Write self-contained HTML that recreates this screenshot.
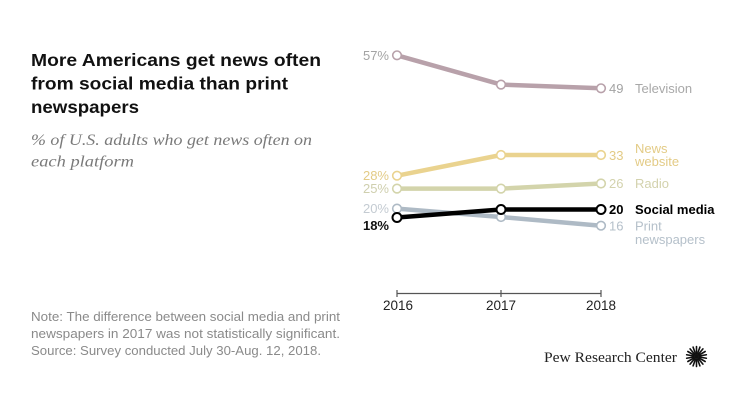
<!DOCTYPE html>
<html><head><meta charset="utf-8"><style>
html,body{margin:0;padding:0;background:#fff;}
svg{display:block;}
text{font-family:"Liberation Sans",sans-serif;}
</style></head><body>
<svg width="730" height="411" viewBox="0 0 730 411" xmlns="http://www.w3.org/2000/svg">
<rect width="730" height="411" fill="#fff"/>
<!-- Title -->
<g font-weight="bold" font-size="17.5" fill="#111">
<text x="31" y="66" textLength="290" lengthAdjust="spacingAndGlyphs">More Americans get news often</text>
<text x="31" y="89.5" textLength="257" lengthAdjust="spacingAndGlyphs">from social media than print</text>
<text x="31" y="113" textLength="108" lengthAdjust="spacingAndGlyphs">newspapers</text>
</g>
<g font-family="Liberation Serif" font-style="italic" font-size="15.5" fill="#7a7a7a">
<text x="31" y="145" style="font-family:'Liberation Serif',serif" textLength="281" lengthAdjust="spacingAndGlyphs">% of U.S. adults who get news often on</text>
<text x="31" y="166.5" style="font-family:'Liberation Serif',serif" textLength="103" lengthAdjust="spacingAndGlyphs">each platform</text>
</g>
<!-- Note -->
<g font-size="12.5" fill="#8a8a8a">
<text x="31" y="321" textLength="309" lengthAdjust="spacingAndGlyphs">Note: The difference between social media and print</text>
<text x="31" y="338" textLength="309" lengthAdjust="spacingAndGlyphs">newspapers in 2017 was not statistically significant.</text>
<text x="31" y="355" textLength="290" lengthAdjust="spacingAndGlyphs">Source: Survey conducted July 30-Aug. 12, 2018.</text>
</g>
<!-- Axis -->
<g stroke="#555" stroke-width="1.2">
<line x1="397" y1="293.5" x2="601" y2="293.5"/>
<line x1="397" y1="290" x2="397" y2="297"/>
<line x1="501" y1="290" x2="501" y2="297"/>
<line x1="601" y1="290" x2="601" y2="297"/>
</g>
<g font-size="13.5" fill="#222" text-anchor="middle">
<text x="398" y="310">2016</text>
<text x="501" y="310">2017</text>
<text x="601" y="310">2018</text>
</g>
<!-- Series lines -->
<g fill="none" stroke-width="4.5" stroke-linejoin="round">
<polyline stroke="#b8a1aa" points="397,55.3 501,84.6 601,88.3"/>
<polyline stroke="#ead38f" points="397,175.7 501,155 601,155"/>
<polyline stroke="#d3d4ab" points="397,188.6 501,188.6 601,183.5"/>
<polyline stroke="#aebac5" points="397,208.6 501,217 601,225.7"/>
<polyline stroke="#000" points="397,217.5 501,209.5 601,209.5"/>
</g>
<!-- Markers -->
<g fill="#fff" stroke-width="1.6">
<g stroke="#b8a1aa"><circle cx="397" cy="55.3" r="4.3"/><circle cx="501" cy="84.6" r="4.3"/><circle cx="601" cy="88.3" r="4.3"/></g>
<g stroke="#ead38f"><circle cx="397" cy="175.7" r="4.3"/><circle cx="501" cy="155" r="4.3"/><circle cx="601" cy="155" r="4.3"/></g>
<g stroke="#d3d4ab"><circle cx="397" cy="188.6" r="4.3"/><circle cx="501" cy="188.6" r="4.3"/><circle cx="601" cy="183.5" r="4.3"/></g>
<g stroke="#aebac5"><circle cx="397" cy="208.6" r="4.3"/><circle cx="501" cy="217" r="4.3"/><circle cx="601" cy="225.7" r="4.3"/></g>
<g stroke="#000" stroke-width="2"><circle cx="397" cy="217.5" r="4.5"/><circle cx="501" cy="209.5" r="4.5"/><circle cx="601" cy="209.5" r="4.5"/></g>
</g>
<!-- Left labels -->
<g font-size="13" text-anchor="end">
<text x="389" y="60" fill="#a3a3a3">57%</text>
<text x="389" y="180" fill="#e3cb86">28%</text>
<text x="389" y="193" fill="#cfcfae">25%</text>
<text x="389" y="213" fill="#c4cbd2">20%</text>
<text x="389" y="230" fill="#111" font-weight="bold">18%</text>
</g>
<!-- Right labels -->
<g font-size="13">
<text x="609" y="93" fill="#a3a3a3">49</text>
<text x="635" y="93" fill="#a8a8a8">Television</text>
<text x="609" y="160" fill="#e3cb86">33</text>
<text x="635" y="153" fill="#e3cb86">News</text>
<text x="635" y="166" fill="#e3cb86">website</text>
<text x="609" y="188" fill="#d3d2ad">26</text>
<text x="635" y="188" fill="#d3d2ad">Radio</text>
<text x="609" y="214" fill="#000" font-weight="bold">20</text>
<text x="635" y="214" fill="#000" font-weight="bold">Social media</text>
<text x="609" y="230.5" fill="#b5c0ca">16</text>
<text x="635" y="230.5" fill="#b5c0ca">Print</text>
<text x="635" y="244" fill="#b5c0ca">newspapers</text>
</g>
<!-- Pew logo -->
<text x="544" y="362" font-size="15" fill="#222" style="font-family:'Liberation Serif',serif" textLength="133" lengthAdjust="spacingAndGlyphs">Pew Research Center</text>
<g transform="translate(696.5,356.5)" stroke="#111" stroke-width="1.6" stroke-linecap="round">
<line x1="0" y1="-3" x2="0" y2="-10"/>
<line x1="0" y1="-3" x2="0" y2="-10" transform="rotate(20)"/>
<line x1="0" y1="-3" x2="0" y2="-10" transform="rotate(40)"/>
<line x1="0" y1="-3" x2="0" y2="-10" transform="rotate(60)"/>
<line x1="0" y1="-3" x2="0" y2="-10" transform="rotate(80)"/>
<line x1="0" y1="-3" x2="0" y2="-10" transform="rotate(100)"/>
<line x1="0" y1="-3" x2="0" y2="-10" transform="rotate(120)"/>
<line x1="0" y1="-3" x2="0" y2="-10" transform="rotate(140)"/>
<line x1="0" y1="-3" x2="0" y2="-10" transform="rotate(160)"/>
<line x1="0" y1="-3" x2="0" y2="-10" transform="rotate(180)"/>
<line x1="0" y1="-3" x2="0" y2="-10" transform="rotate(200)"/>
<line x1="0" y1="-3" x2="0" y2="-10" transform="rotate(220)"/>
<line x1="0" y1="-3" x2="0" y2="-10" transform="rotate(240)"/>
<line x1="0" y1="-3" x2="0" y2="-10" transform="rotate(260)"/>
<line x1="0" y1="-3" x2="0" y2="-10" transform="rotate(280)"/>
<line x1="0" y1="-3" x2="0" y2="-10" transform="rotate(300)"/>
<line x1="0" y1="-3" x2="0" y2="-10" transform="rotate(320)"/>
<line x1="0" y1="-3" x2="0" y2="-10" transform="rotate(340)"/>
<circle cx="0" cy="0" r="2.5" fill="#111" stroke="none"/>
</g>
</svg>
</body></html>
